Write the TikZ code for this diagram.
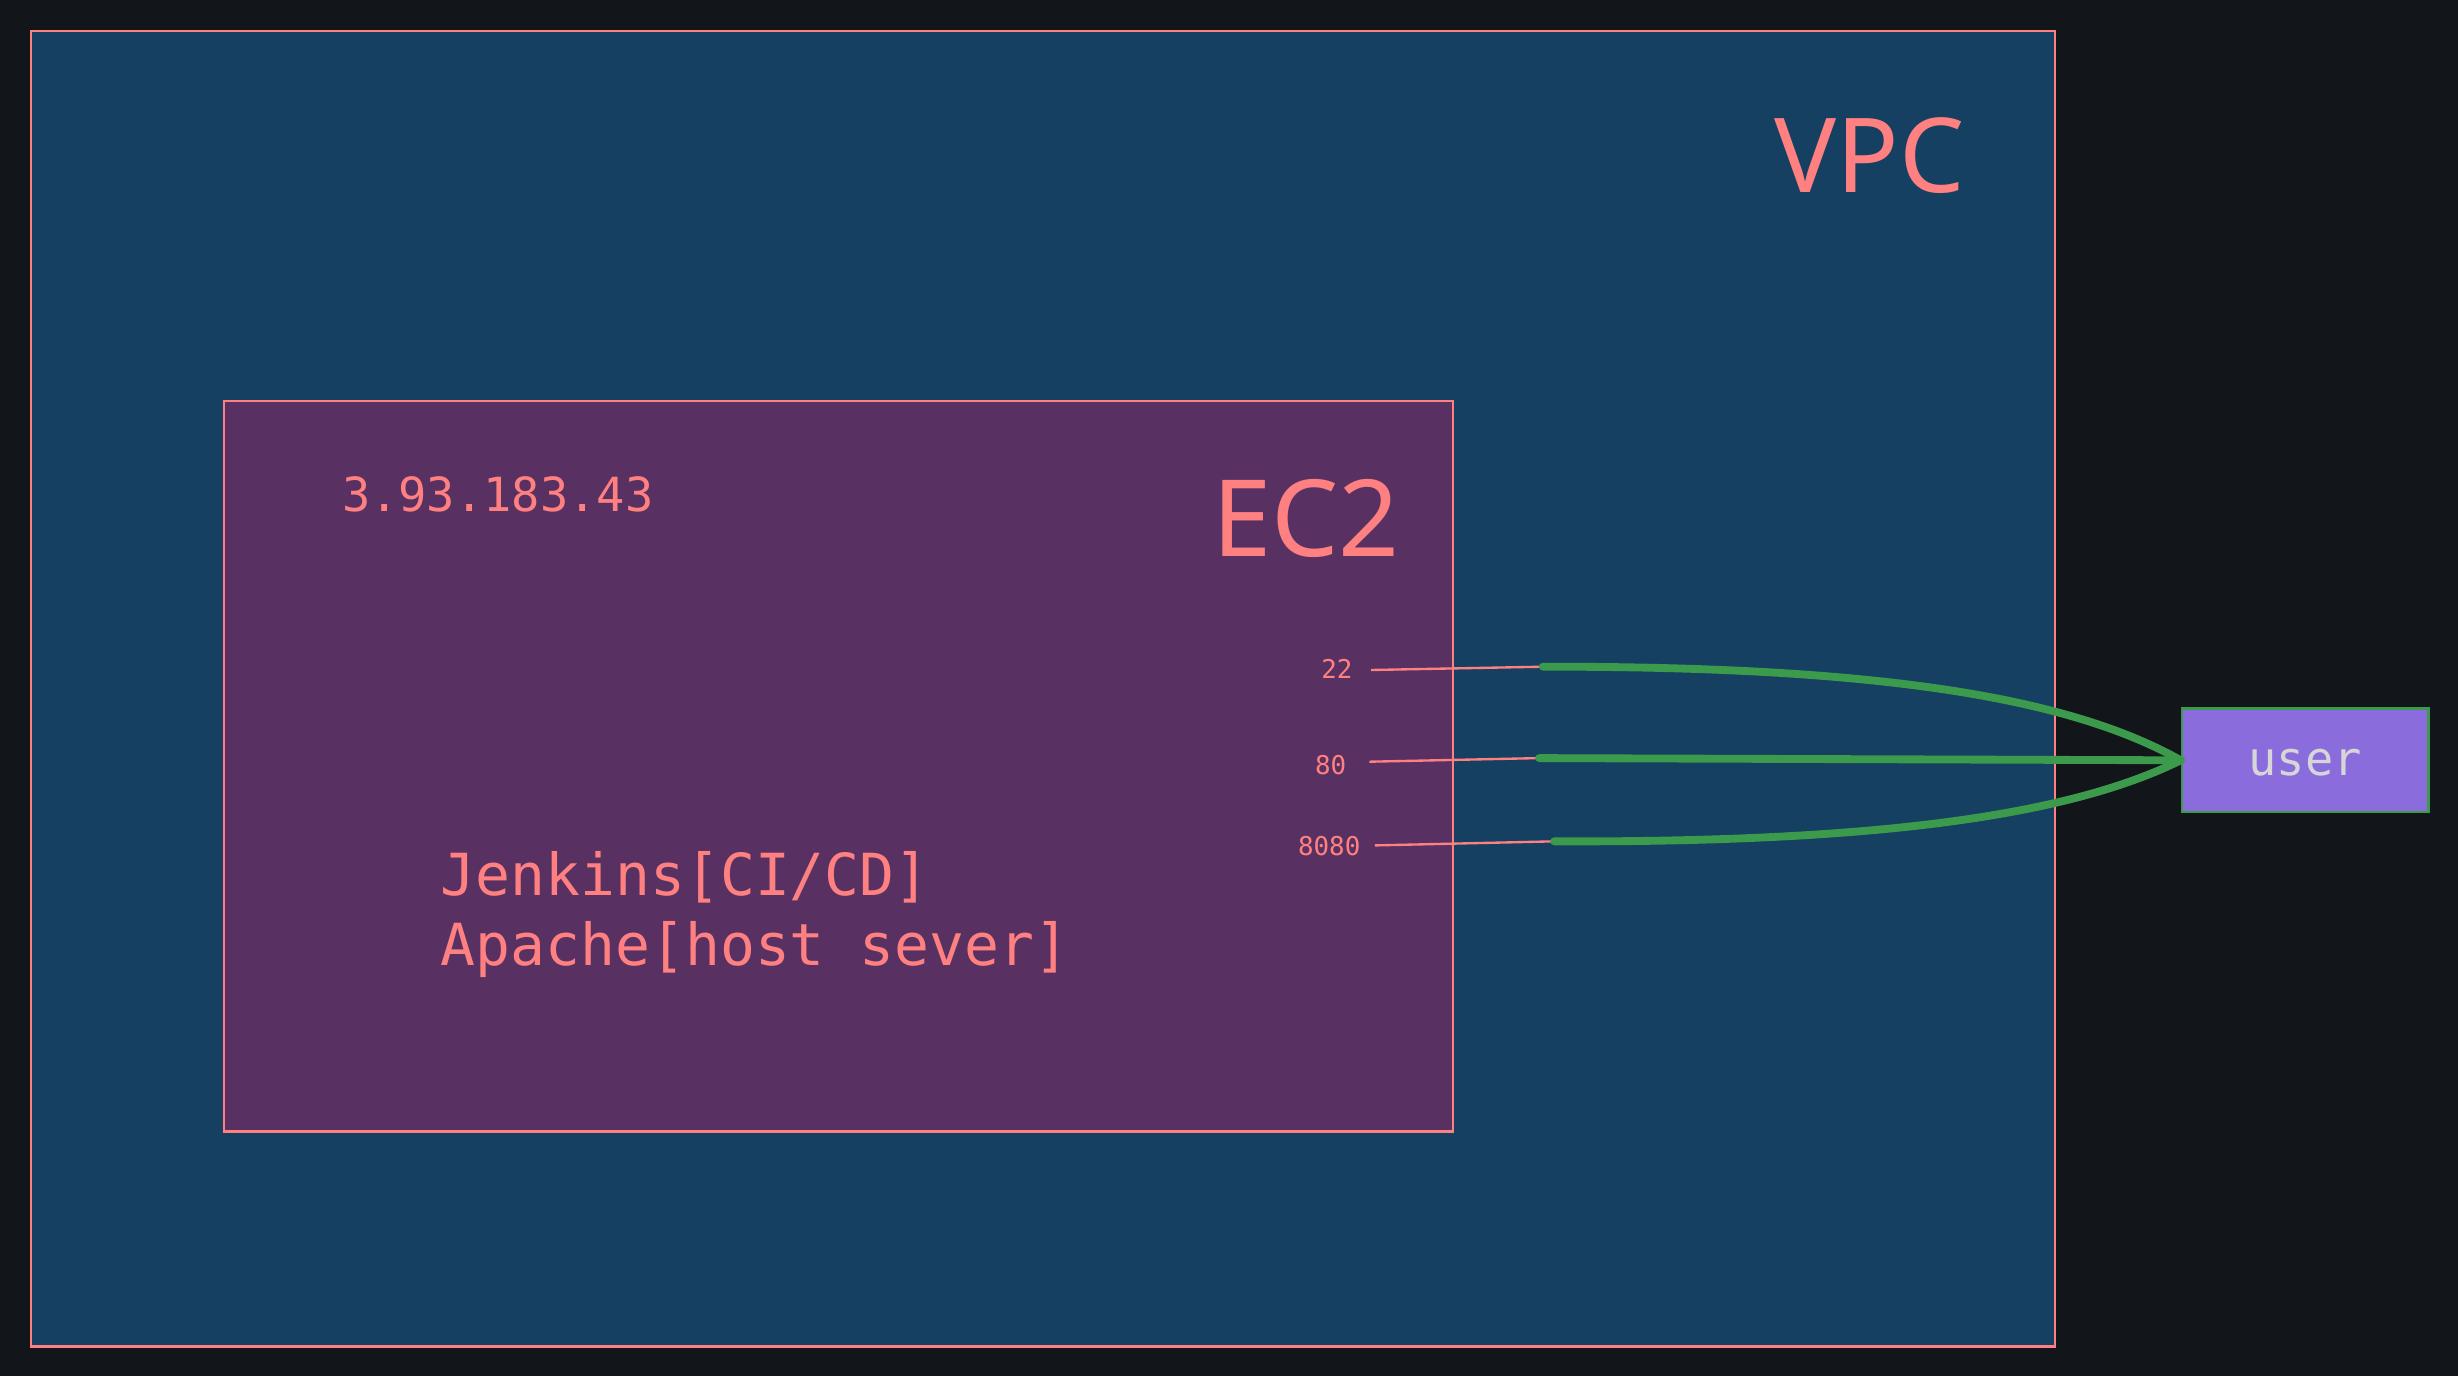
\documentclass[tikz,border=0pt]{standalone}
\usepackage{fontspec}
\setmainfont{Noto Sans}
\newfontfamily\monof{DejaVu Sans Mono}
\definecolor{bgc}{HTML}{121519}
\definecolor{vpcfill}{HTML}{164062}
\definecolor{ecfill}{HTML}{583162}
\definecolor{pinkc}{HTML}{FF8080}
\definecolor{greenc}{HTML}{3B9A4B}
\definecolor{userfill}{HTML}{8A6CDD}
\definecolor{usertext}{HTML}{D6D6D6}
\tikzset{
  boxarea/.style={draw=pinkc, line width=1.6pt, inner sep=0pt, anchor=north west},
  bigtitle/.style={text=pinkc, inner sep=0pt, anchor=base west, font=\fontsize{66}{72}\selectfont},
  monotext/.style={text=pinkc, inner sep=0pt, font=\monof\fontsize{37}{45}\selectfont, align=left},
  porttext/.style={text=pinkc, inner sep=0pt, anchor=base east, font=\monof\fontsize{16.5}{18}\selectfont},
  portline/.style={draw=pinkc, line width=1.5pt},
  link/.style={draw=greenc, line width=5pt, line cap=round},
}
\begin{document}
\begin{tikzpicture}[x=1pt,y=-1pt]
\fill[bgc] (0,0) rectangle (1568,878);
\useasboundingbox (0,0) rectangle (1568,878);
\node[boxarea, fill=vpcfill, minimum width=1291pt, minimum height=839pt] (vpc) at (19,19) {};
\node[bigtitle] (vpclabel) at (1132,123) {VPC};
\node[boxarea, fill=ecfill, minimum width=784pt, minimum height=466pt] (ec2) at (142,255) {};
\node[bigtitle, font=\fontsize{68}{72}\selectfont] (ec2title) at (773,355) {EC2};
\node[monotext, anchor=base west, font=\monof\fontsize{30}{36}\selectfont] (ip) at (218,326) {3.93.183.43};
\node[monotext, anchor=base west] (apps) at (281,616) {Jenkins[CI/CD]\\Apache[host sever]};
\node[porttext] (p22) at (863,433) {22};
\node[porttext] (p80) at (859,494) {80};
\node[porttext] (p8080) at (868,545.5) {8080};
\node[draw=greenc, line width=1.7pt, fill=userfill, minimum width=157pt, minimum height=66pt, inner sep=0pt, text=usertext, font=\monof\fontsize{30}{36}\selectfont] (user) at (1470.5,485) {\raisebox{-10pt}[0pt][0pt]{user}};
\coordinate (a22) at (874.6,427.4);
\coordinate (b22) at (984.2,425.3);
\coordinate (a80) at (873.6,485.9);
\coordinate (b80) at (981.8,483.6);
\coordinate (a8080) at (877,539.3);
\coordinate (b8080) at (991.4,536.7);
\draw[portline] (a22) -- (b22);
\draw[portline] (a80) -- (b80);
\draw[portline] (a8080) -- (b8080);
\draw[link] (b22) .. controls (1200,425) and (1320,445) .. (user.west);
\draw[link] (b80) -- (user.west);
\draw[link] (b8080) .. controls (1200,537.5) and (1320,520) .. (user.west);
\end{tikzpicture}
\end{document}
